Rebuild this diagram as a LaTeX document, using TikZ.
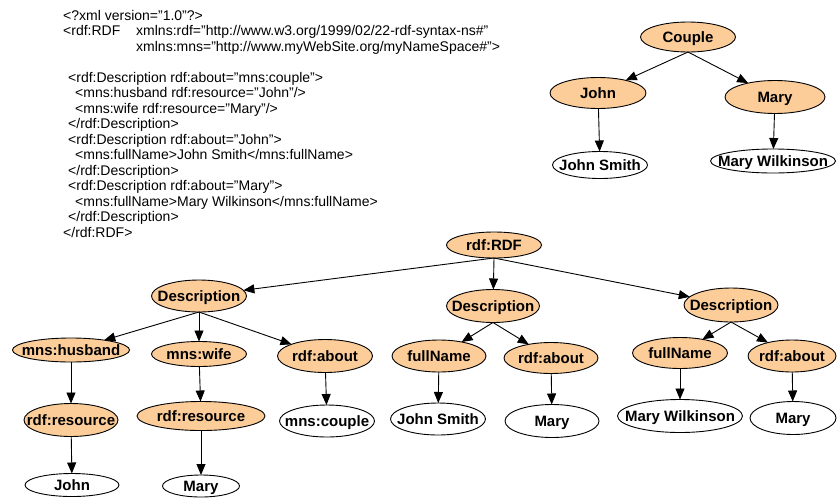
\documentclass[tikz,border=0pt]{standalone}
\usepackage{fontspec}
\setmainfont{Liberation Sans}
\usetikzlibrary{shapes.geometric,arrows.meta}
\definecolor{nodefill}{RGB}{252,204,153}
\newcommand{\ctxt}[1]{\smash{\makebox[0pt]{\raisebox{-5.4pt}{#1}}}}
\begin{document}
\begin{tikzpicture}[x=1pt,y=-1pt,
  el/.style={ellipse,draw=black,line width=0.9pt,inner sep=0pt,outer sep=0pt,font=\fontsize{15}{18}\selectfont\bfseries},
  res/.style={el,fill=nodefill},
  lit/.style={el,fill=white},
  arr/.style={-{Triangle[length=11pt,width=9pt]},line width=0.9pt},
  code/.style={anchor=base west,inner sep=0pt,font=\fontsize{14}{16}\selectfont}]
\fill[white] (0,0) rectangle (837,498);
\useasboundingbox (0,0) rectangle (837,498);

% XML source
\node[code] (x1) at (63,20) {<?xml version="1.0"?>};
\node[code] (x2) at (63,35.5) {\makebox[73pt][l]{<rdf:RDF}xmlns:rdf="http://www.w3.org/1999/02/22-rdf-syntax-ns\#"};
\node[code] (x3) at (136,51) {xmlns:mns="http://www.myWebSite.org/myNameSpace\#">};
\node[code] (x4) at (68,82) {<rdf:Description rdf:about="mns:couple">};
\node[code] (x5) at (75,97.5) {<mns:husband rdf:resource="John"/>};
\node[code] (x6) at (75,113) {<mns:wife rdf:resource="Mary”/>};
\node[code] (x7) at (68,128.5) {</rdf:Description>};
\node[code] (x8) at (68,144) {<rdf:Description rdf:about="John">};
\node[code] (x9) at (75,159.5) {<mns:fullName>John Smith</mns:fullName>};
\node[code] (x10) at (68,175) {</rdf:Description>};
\node[code] (x11) at (68,190.5) {<rdf:Description rdf:about="Mary”>};
\node[code] (x12) at (75,206) {<mns:fullName>Mary Wilkinson</mns:fullName>};
\node[code] (x13) at (68,221.5) {</rdf:Description>};
\node[code] (x14) at (63,237) {</rdf:RDF>};

% top-right graph
\node[res,minimum width=95pt,minimum height=30pt] (couple) at (688,37) {\ctxt{Couple}};
\node[res,minimum width=96pt,minimum height=31pt] (john) at (598,93) {\ctxt{John}};
\node[res,minimum width=100pt,minimum height=33pt] (mary) at (775,97) {\ctxt{Mary}};
\node[lit,minimum width=95pt,minimum height=27pt] (jsmith) at (600,165) {\ctxt{John Smith}};
\node[lit,minimum width=125pt,minimum height=24pt] (mwilk) at (773,161) {\ctxt{Mary Wilkinson}};

% bottom tree
\node[res,minimum width=95pt,minimum height=26pt] (rdf) at (494,245) {\ctxt{rdf:RDF}};
\node[res,minimum width=95pt,minimum height=32pt] (d1) at (199,296) {\ctxt{Description}};
\node[res,minimum width=93pt,minimum height=33pt] (d2) at (493,306) {\ctxt{Description}};
\node[res,minimum width=94pt,minimum height=34pt] (d3) at (731,305) {\ctxt{Description}};

\node[res,minimum width=117pt,minimum height=24pt] (hus) at (71,350) {\ctxt{mns:husband}};
\node[res,minimum width=95pt,minimum height=25pt] (wife) at (199,354) {\ctxt{mns:wife}};
\node[res,minimum width=95pt,minimum height=33pt] (ab1) at (325,356) {\ctxt{rdf:about}};
\node[res,minimum width=94pt,minimum height=32pt] (fn2) at (439,356) {\ctxt{fullName}};
\node[res,minimum width=94pt,minimum height=31pt] (ab2) at (551,358) {\ctxt{rdf:about}};
\node[res,minimum width=95pt,minimum height=31pt] (fn3) at (680,353) {\ctxt{fullName}};
\node[res,minimum width=88pt,minimum height=32pt] (ab3) at (792,356) {\ctxt{rdf:about}};

\node[res,minimum width=94pt,minimum height=33pt] (rs1) at (71,420) {\ctxt{rdf:resource}};
\node[res,minimum width=128pt,minimum height=29pt] (rs2) at (201,416) {\ctxt{rdf:resource}};
\node[lit,minimum width=95pt,minimum height=32pt] (mcouple) at (327,421) {\ctxt{mns:couple}};
\node[lit,minimum width=95pt,minimum height=32pt] (js2) at (438,419) {\ctxt{John Smith}};
\node[lit,minimum width=94pt,minimum height=33pt] (m2) at (552,421) {\ctxt{Mary}};
\node[lit,minimum width=125pt,minimum height=33pt] (mw3) at (680,416) {\ctxt{Mary Wilkinson}};
\node[lit,minimum width=86pt,minimum height=33pt] (m3) at (793,418) {\ctxt{Mary}};

\node[lit,minimum width=94pt,minimum height=23pt] (lj) at (72,485) {\ctxt{John}};
\node[lit,minimum width=77pt,minimum height=22pt] (lm) at (201,486) {\ctxt{Mary}};

% connectors
\draw[arr] (couple.south) -- (john);
\draw[arr] (couple.south) -- (mary);
\draw[arr] (john) -- (jsmith);
\draw[arr] (mary) -- (mwilk);

\draw[arr] (rdf.south) -- (d1);
\draw[arr] (rdf.south) -- (d2);
\draw[arr] (rdf.south) -- (d3);
\draw[arr] (d1.south) -- (hus);
\draw[arr] (d1.south) -- (wife);
\draw[arr] (d1.south) -- (ab1);
\draw[arr] (d2.south) -- (fn2);
\draw[arr] (d2.south) -- (ab2);
\draw[arr] (d3.south) -- (fn3);
\draw[arr] (d3.south) -- (ab3);

\draw[arr] (hus) -- (rs1);
\draw[arr] (rs1) -- (lj);
\draw[arr] (wife) -- (rs2);
\draw[arr] (rs2) -- (lm);
\draw[arr] (ab1) -- (mcouple);
\draw[arr] (fn2) -- (js2);
\draw[arr] (ab2) -- (m2);
\draw[arr] (fn3) -- (mw3);
\draw[arr] (ab3) -- (m3);
\end{tikzpicture}
\end{document}
